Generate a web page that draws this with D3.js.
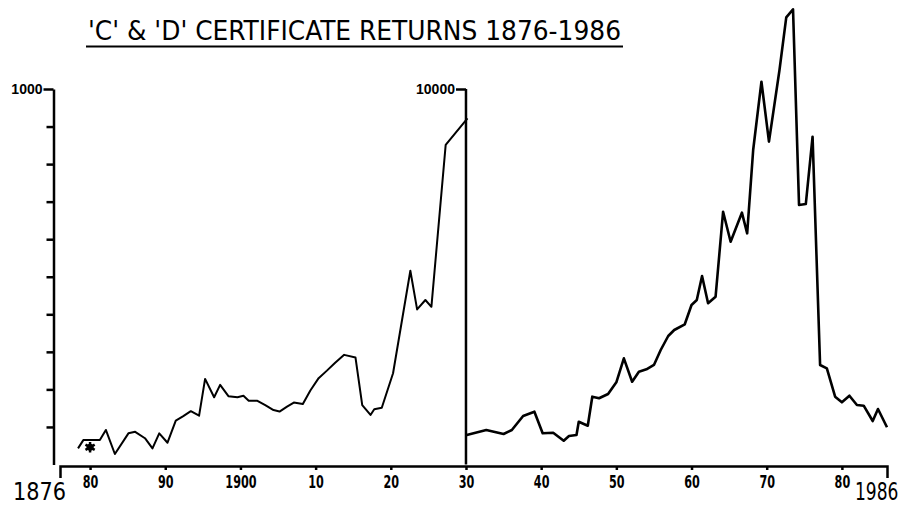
<!DOCTYPE html>
<html>
<head>
<meta charset="utf-8">
<script src="https://cdn.jsdelivr.net/npm/d3@7"></script>
<style>
  body { margin: 0; background: white; }
  svg { display: block; }
</style>
</head>
<body>
<div id="vis"></div>
<script>
// data (left part in units 0-1000, right part in units 0-10000)
let leftYears = [1878.4, 1879.1, 1881.3, 1882.1, 1883.3, 1885.1, 1886.0, 1887.3, 1888.3, 1889.2,
  1890.3, 1891.4, 1892.4, 1893.4, 1894.5, 1895.3, 1896.5, 1897.3, 1898.4, 1899.6,
  1900.4, 1901.1, 1902.2, 1903.3, 1904.4, 1905.2, 1906.2, 1907.1, 1908.3, 1909.3,
  1910.4, 1911.5, 1912.6, 1913.8, 1915.3, 1916.2, 1917.3, 1917.8, 1918.8, 1920.3,
  1922.6, 1923.5, 1924.6, 1925.4, 1927.3, 1930.2]
let leftValues = [43, 65, 65, 92, 28, 83, 87, 70, 43, 83,
  58, 117, 129, 142, 130, 228, 179, 212, 182, 179,
  183, 170, 170, 158, 145, 141, 154, 165, 161, 197,
  230, 250, 271, 292, 285, 158, 132, 147, 151, 243,
  516, 413, 438, 420, 851, 922]

let rightYears = [1930.1, 1932.7, 1935.0, 1936.1, 1937.6, 1939.1, 1940.2, 1941.6, 1943.0, 1943.7,
  1944.7, 1945.0, 1946.2, 1946.8, 1947.7, 1948.9, 1950.0, 1951.0, 1952.1, 1953.0,
  1954.0, 1955.0, 1955.9, 1956.9, 1957.7, 1959.1, 1960.0, 1960.7, 1961.4, 1962.2,
  1963.2, 1964.2, 1965.2, 1966.7, 1967.4, 1968.2, 1969.3, 1970.3, 1971.7, 1972.6,
  1973.5, 1974.3, 1975.2, 1976.1, 1977.1, 1978.0, 1979.1, 1980.0, 1981.0, 1982.0,
  1982.9, 1984.1, 1984.8, 1986.0]
let rightValues = [786, 919, 812, 919, 1292, 1406, 831, 847, 634, 759,
  786, 1140, 1033, 1806, 1763, 1877, 2189, 2828, 2205, 2471,
  2535, 2650, 3049, 3422, 3582, 3734, 4248, 4381, 5020, 4293,
  4469, 6732, 5933, 6706, 6157, 8375, 10194, 8597, 10506, 11909,
  12122, 6911, 6937, 8730, 2650, 2562, 1806, 1656, 1832, 1585,
  1566, 1158, 1478, 991]

// the asterisk marker near 1880
let starYear = 1880
let starValue = 46

let tickYears = [1880, 1890, 1900, 1910, 1920, 1930, 1940, 1950, 1960, 1970, 1980]
let tickLabels = ['80', '90', '1900', '10', '20', '30', '40', '50', '60', '70', '80']
let leftTicks = [100, 200, 300, 400, 500, 600, 700, 800, 900, 1000]

let width = 909,
  height = 507

let svg = d3.select('#vis')
  .append('svg')
  .attr('width', width)
  .attr('height', height)
  .style('background-color', 'white')

let x = d3.scaleLinear().domain([1876, 1986]).range([60, 887])
let yLeft = d3.scaleLinear().domain([0, 1000]).range([464.5, 89])
let yRight = d3.scaleLinear().domain([0, 10000]).range([464.5, 89])

let narrow = '"Liberation Sans Narrow", "DejaVu Sans Condensed", "DejaVu Sans", sans-serif'

// title + underline
svg.append('text')
  .attr('x', 88)
  .attr('y', 40)
  .attr('textLength', 533)
  .attr('lengthAdjust', 'spacingAndGlyphs')
  .style('font-family', narrow)
  .style('font-size', '26px')
  .style('font-stretch', 'condensed')
  .text("'C' & 'D'  CERTIFICATE  RETURNS  1876-1986")

svg.append('line')
  .attr('x1', 86).attr('x2', 623)
  .attr('y1', 46.5).attr('y2', 46.5)
  .attr('stroke', 'black')
  .attr('stroke-width', 2.2)

// left y axis
let leftAxis = svg.append('g')
  .attr('transform', 'translate(53.5,0)')
  .call(d3.axisLeft(yLeft).tickValues(leftTicks).tickSize(7).tickSizeOuter(0)
    .tickFormat(d => d === 1000 ? '1000' : ''))

leftAxis.selectAll('.tick')
  .filter(d => d === 1000)
  .select('line').attr('x2', -10)
leftAxis.selectAll('.tick text')
  .attr('x', -11)
  .attr('dy', '0.3em')

// middle axis for the later period
let midAxis = svg.append('g')
  .attr('transform', 'translate(' + x(1930) + ',0)')
  .call(d3.axisLeft(yRight).tickValues([10000]).tickSize(10).tickSizeOuter(0)
    .tickFormat(d3.format('d')))
midAxis.select('.domain').attr('d', 'M0,' + yRight(0) + 'V' + yRight(10000))
midAxis.selectAll('.tick text').attr('x', -11).attr('dy', '0.3em')

// bottom axis with the end brackets
let xAxis = svg.append('g')
  .attr('transform', 'translate(0,' + (yLeft(0) + 1.5) + ')')
  .call(d3.axisBottom(x).tickValues(tickYears).tickSize(4).tickSizeOuter(12).tickPadding(5)
    .tickFormat((d, i) => tickLabels[i]))

svg.selectAll('.domain, .tick line')
  .attr('stroke', 'black')
  .attr('stroke-width', 2.5)

leftAxis.selectAll('text').style('font', 'bold 14px "Liberation Sans", sans-serif')
midAxis.selectAll('text').style('font', 'bold 14px "Liberation Sans", sans-serif')

// squeeze the tick labels to the narrow lettering of the original
xAxis.selectAll('.tick text')
  .attr('textLength', (d, i) => tickLabels[i].length * 7.8)
  .attr('lengthAdjust', 'spacingAndGlyphs')
  .style('font-family', narrow)
  .style('font-stretch', 'condensed')
  .style('font-weight', 'bold')
  .style('font-size', '18px')

// end year labels
svg.append('text')
  .attr('x', 66)
  .attr('y', 500)
  .attr('text-anchor', 'end')
  .attr('textLength', 53)
  .attr('lengthAdjust', 'spacingAndGlyphs')
  .style('font-family', narrow)
  .style('font-stretch', 'condensed')
  .style('font-size', '25px')
  .text('1876')

svg.append('text')
  .attr('transform', 'translate(855,500) scale(0.76,1)')
  .style('font-family', narrow)
  .style('font-stretch', 'condensed')
  .style('font-size', '25px')
  .text('1986')

svg.selectAll('text').style('fill', 'black')

// the two series
let leftData = leftYears.map((d, i) => [d, leftValues[i]])
let rightData = rightYears.map((d, i) => [d, rightValues[i]])

svg.append('path')
  .datum(leftData)
  .attr('fill', 'none')
  .attr('stroke', 'black')
  .attr('stroke-width', 2)
  .attr('stroke-linejoin', 'round')
  .attr('d', d3.line().x(d => x(d[0])).y(d => yLeft(d[1])))

svg.append('path')
  .datum(rightData)
  .attr('fill', 'none')
  .attr('stroke', 'black')
  .attr('stroke-width', 2.6)
  .attr('stroke-linejoin', 'round')
  .attr('d', d3.line().x(d => x(d[0])).y(d => yRight(d[1])))

// asterisk marker
svg.append('path')
  .attr('transform', 'translate(' + x(starYear) + ',' + yLeft(starValue) + ')')
  .attr('d', d3.symbol().type(d3.symbolAsterisk).size(80)())
  .attr('fill', 'none')
  .attr('stroke', 'black')
  .attr('stroke-width', 2.5)
svg.append('circle')
  .attr('cx', x(starYear))
  .attr('cy', yLeft(starValue))
  .attr('r', 3.5)
  .attr('fill', 'black')
</script>
</body>
</html>
